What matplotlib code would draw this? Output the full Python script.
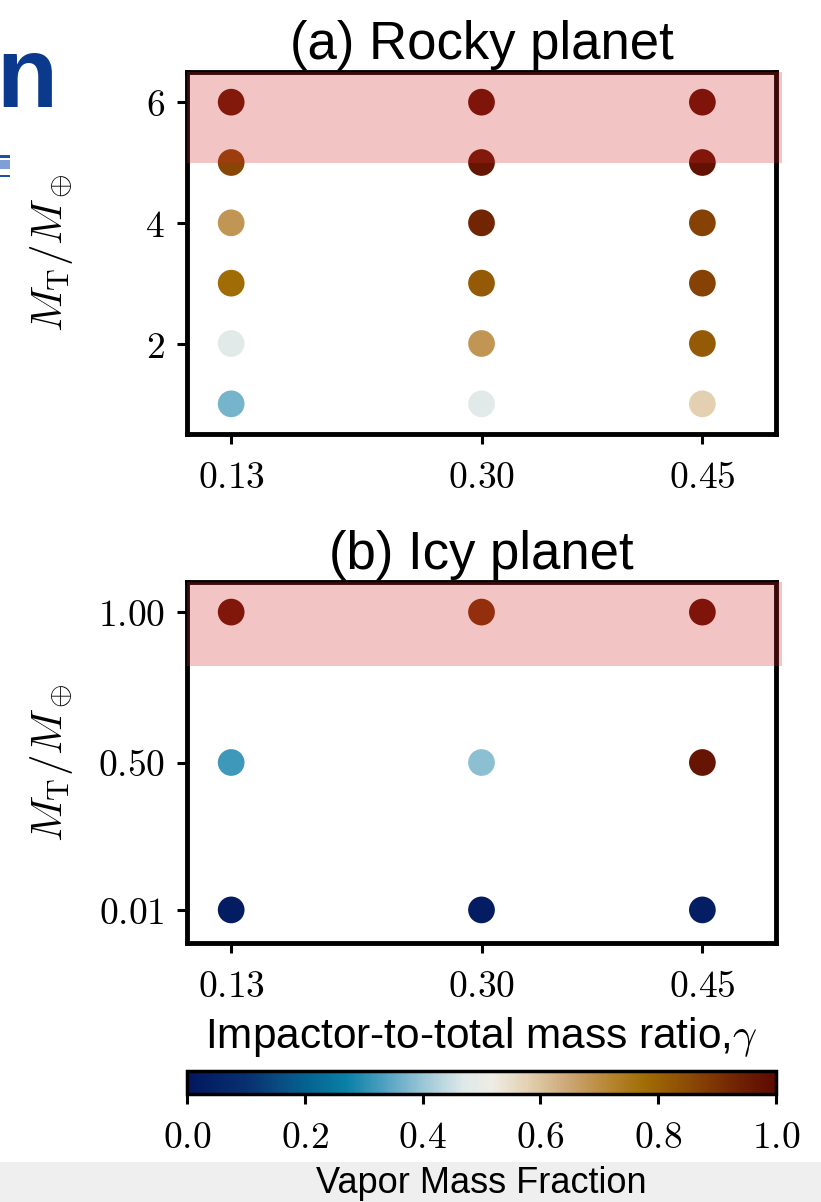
import numpy as np
import matplotlib
matplotlib.use("Agg")
import matplotlib.pyplot as plt
from matplotlib.colors import LinearSegmentedColormap, Normalize
from matplotlib.patches import Rectangle
import matplotlib.cm as cm

plt.rcParams['font.family'] = ['Liberation Sans', 'DejaVu Sans']
plt.rcParams['mathtext.fontset'] = 'cm'

# data
gamma = [0.13, 0.30, 0.45]
gamma_labels = ['$0.13$', '$0.30$', '$0.45$']

rocky_mass = [1, 2, 3, 4, 5, 6]
rocky_ticks = [2, 4, 6]
# rows = target mass, columns = gamma
rocky_vmf = [
    [0.37, 0.48, 0.58],
    [0.48, 0.68, 0.82],
    [0.78, 0.82, 0.87],
    [0.68, 0.93, 0.87],
    [0.86, 0.97, 0.98],
    [0.97, 0.99, 0.99],
]

icy_mass = [0.01, 0.50, 1.00]
icy_labels = ['$0.01$', '$0.50$', '$1.00$']
icy_vmf = [
    [0.02, 0.02, 0.03],
    [0.32, 0.39, 0.97],
    [0.98, 0.90, 0.99],
]

cbar_ticks = [0.0, 0.2, 0.4, 0.6, 0.8, 1.0]

# vik-like diverging map
vik_pos = [0.0, 0.10, 0.15, 0.20, 0.27, 0.33, 0.40, 0.47, 0.52, 0.58, 0.65, 0.72, 0.78, 0.85, 0.92, 1.0]
vik_col = ['#03175e', '#07306f', '#0a4a80', '#04628f', '#0a80a5', '#4a9ebf', '#9ac6d7', '#dfe9ea',
           '#efece4', '#e2d0b0', '#cca574', '#b58530', '#a06c05', '#8c4c05', '#762a03', '#5c0a00']
vik = LinearSegmentedColormap.from_list('vik', list(zip(vik_pos, vik_col)))
norm = Normalize(0, 1)

W, H = 821, 1202
fig = plt.figure(figsize=(W / 100, H / 100), dpi=100)

def px_axes(left, top, right, bottom):
    return fig.add_axes([left / W, 1 - bottom / H, (right - left) / W, (bottom - top) / H])

ax1 = px_axes(187, 72, 776, 434)
ax2 = px_axes(187, 582, 776, 943)
cax = px_axes(187, 1071, 776, 1094)


def panel(ax, mass, vmf, title, band_lo, ylim):
    for i, m in enumerate(mass):
        ax.scatter(gamma, [m] * len(gamma), c=vmf[i], cmap=vik, norm=norm, s=370, linewidths=0, zorder=2)
    ax.set_xlim(0.1, 0.5)
    ax.set_ylim(*ylim)
    ax.axhspan(band_lo, ylim[1], xmin=0, xmax=1.01, color='#d62728', alpha=0.27, lw=0,
               zorder=3, clip_on=False)
    ax.set_title(title, fontsize=38, pad=9)
    ax.set_xticks(gamma)
    ax.set_xticklabels(gamma_labels)
    for s in ax.spines.values():
        s.set_linewidth(3.5)
    ax.tick_params(axis='both', length=7, width=2.2, labelsize=27, pad=9)
    ax.tick_params(axis='x', pad=12)
    ax.set_ylabel(r'$M_\mathrm{T}/M_\oplus$', fontsize=31)
    ax.yaxis.set_label_coords(-0.19, 0.5)


panel(ax1, rocky_mass, rocky_vmf, '(a) Rocky planet', 5, (0.5, 6.5))
ax1.set_yticks(rocky_ticks)
ax1.set_yticklabels(['$%d$' % t for t in rocky_ticks])

panel(ax2, icy_mass, icy_vmf, '(b) Icy planet', 0.82, (-0.1, 1.1))
ax2.set_yticks(icy_mass)
ax2.set_yticklabels(icy_labels)
ax2.set_xlabel(r'Impactor-to-total mass ratio,$\gamma$', fontsize=30.5, labelpad=7)

sm = cm.ScalarMappable(norm=norm, cmap=vik)
cb = fig.colorbar(sm, cax=cax, orientation='horizontal', ticks=cbar_ticks)
cb.outline.set_linewidth(2.5)
cb.ax.set_xticklabels(['$%.1f$' % t for t in cbar_ticks])
cb.ax.tick_params(length=7, width=2.2, labelsize=27, pad=12)
cb.set_label('Vapor Mass Fraction', fontsize=26, labelpad=7)

# bits of the surrounding page caught in the screenshot
fig.patches.append(Rectangle((0, 0), 1, 40 / H, transform=fig.transFigure, facecolor='#efefef',
                             edgecolor='none', zorder=-1))
fig.text(-4 / W, 1 - 107 / H, 'n', fontsize=72, fontweight='bold', color='#0b3a8c', ha='left',
         va='baseline')
fig.patches.append(Rectangle((0, 1 - 158 / H), 10 / W, 3 / H, transform=fig.transFigure,
                             facecolor='#1f4fa0', edgecolor='none'))
fig.patches.append(Rectangle((0, 1 - 169 / H), 10 / W, 9 / H, transform=fig.transFigure,
                             facecolor='#7f9fd6', edgecolor='none'))
fig.patches.append(Rectangle((0, 1 - 177 / H), 10 / W, 2 / H, transform=fig.transFigure,
                             facecolor='#1f4fa0', edgecolor='none'))

fig.savefig('out.png', dpi=100)
